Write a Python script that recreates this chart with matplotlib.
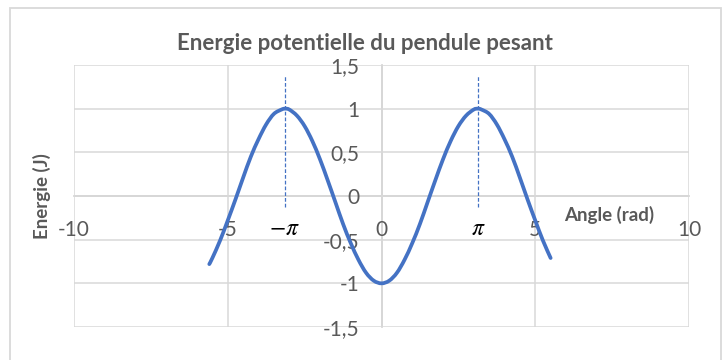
import numpy as np
import matplotlib
matplotlib.use("Agg")
import matplotlib.pyplot as plt
from matplotlib.path import Path
from matplotlib.patches import PathPatch, Rectangle

plt.rcParams['font.family'] = ['Lato', 'DejaVu Sans']
plt.rcParams['mathtext.fontset'] = 'stix'

# Potential energy of the pendulum, E(theta), sampled values
angle = [-5.6, -5.5, -5.25, -5.0, -4.75, -4.5, -4.25, -4.0, -3.75, -3.5, -3.25,
         -3.14, -3.0, -2.75, -2.5, -2.25, -2.0, -1.75, -1.5, -1.25, -1.0, -0.75,
         -0.5, -0.25, 0.0, 0.25, 0.5, 0.75, 1.0, 1.25, 1.5, 1.75, 2.0, 2.25,
         2.5, 2.75, 3.0, 3.14, 3.25, 3.5, 3.75, 4.0, 4.25, 4.5, 4.75, 5.0,
         5.25, 5.5]
energy = [-0.78, -0.71, -0.51, -0.28, -0.04, 0.21, 0.45, 0.65, 0.82, 0.94, 0.99,
          1.00, 0.99, 0.92, 0.80, 0.63, 0.42, 0.18, -0.07, -0.32, -0.54, -0.73,
          -0.88, -0.97, -1.00, -0.97, -0.88, -0.73, -0.54, -0.32, -0.07, 0.18,
          0.42, 0.63, 0.80, 0.92, 0.99, 1.00, 0.99, 0.94, 0.82, 0.65, 0.45,
          0.21, -0.04, -0.28, -0.51, -0.71]

# Equilibrium markers at +/- pi
pi_marks = [-np.pi, np.pi]
pi_labels = [r'$-\pi$', r'$\pi$']
pi_line_range = (-0.13, 1.37)

x_ticks = [-10, -5, 0, 5, 10]
x_tick_labels = ['-10', '-5', '0', '5', '10']
y_ticks = [-1.5, -1.0, -0.5, 0.0, 0.5, 1.0, 1.5]
y_tick_labels = ['-1,5', '-1', '-0,5', '0', '0,5', '1', '1,5']

title = 'Energie potentielle du pendule pesant'
x_title = 'Angle (rad)'
y_title = 'Energie (J)'

W, H = 724, 360
fig = plt.figure(figsize=(W / 100, H / 100), dpi=100)
ax = fig.add_axes([74 / W, 1 - 327 / H, (689 - 74) / W, (327 - 65) / H])

grey_txt = '#595959'
grid_col = '#D9D9D9'
blue = '#4472C4'

ax.set_xlim(-10, 10)
ax.set_ylim(-1.5, 1.5)
ax.set_xticks(x_ticks)
ax.set_xticklabels(x_tick_labels)
ax.set_yticks(y_ticks)
ax.set_yticklabels(y_tick_labels)
ax.grid(True, color=grid_col, lw=1.1)
ax.set_axisbelow(True)
for gl in ax.get_xgridlines() + ax.get_ygridlines():
    gl.set_clip_on(False)

for side in ('top', 'right'):
    ax.spines[side].set_visible(False)
ax.spines['left'].set_position(('data', 0))
ax.spines['bottom'].set_position(('data', 0))
for side in ('left', 'bottom'):
    ax.spines[side].set_color('#C8C8C8')
    ax.spines[side].set_linewidth(1.1)
    ax.spines[side].set_zorder(0.5)

ax.tick_params(axis='both', length=0, labelsize=15, labelcolor=grey_txt)
ax.tick_params(axis='y', pad=16)
ax.tick_params(axis='x', pad=17)
for lbl in ax.get_xticklabels() + ax.get_yticklabels():
    lbl.set_zorder(1)


def smooth_path(xs, ys):
    """Catmull-Rom style cubic Bezier through the points (Excel 'smoothed line')."""
    pts = np.column_stack([xs, ys])
    n = len(pts)
    verts = [pts[0]]
    codes = [Path.MOVETO]
    for i in range(n - 1):
        p0 = pts[i - 1] if i > 0 else pts[i]
        p1 = pts[i]
        p2 = pts[i + 1]
        p3 = pts[i + 2] if i + 2 < n else pts[i + 1]
        c1 = p1 + (p2 - p0) / 6.0
        c2 = p2 - (p3 - p1) / 6.0
        verts += [c1, c2, p2]
        codes += [Path.CURVE4] * 3
    return Path(verts, codes)


curve = PathPatch(smooth_path(angle, energy), fill=False, edgecolor=blue,
                  lw=2.7, capstyle='round', joinstyle='round', zorder=3)
ax.add_patch(curve)

ax.vlines(pi_marks, pi_line_range[0], pi_line_range[1], colors=blue,
          linestyles=(0, (3, 1.6)), lw=0.9, zorder=2)
for xm, lab in zip(pi_marks, pi_labels):
    ax.text(xm, -0.37, lab, ha='center', va='center', fontsize=17,
            color='black', zorder=2)

fig.text(365 / W, 1 - 43 / H, title, ha='center', va='center',
         fontsize=16, fontweight='bold', color=grey_txt)
fig.text(609 / W, 1 - 215 / H, x_title, ha='center', va='center',
         fontsize=13.5, fontweight='bold', color=grey_txt)
fig.text(42 / W, 1 - 196 / H, y_title, ha='center', va='center',
         rotation=90, fontsize=13.5, fontweight='bold', color=grey_txt)

fig.patches.append(Rectangle((9.5 / W, -0.05), (721 - 9.5) / W, 1.05 - 8.5 / H,
                             transform=fig.transFigure, fill=False,
                             edgecolor=grid_col, lw=1.3))

fig.savefig('out.png', dpi=100)
